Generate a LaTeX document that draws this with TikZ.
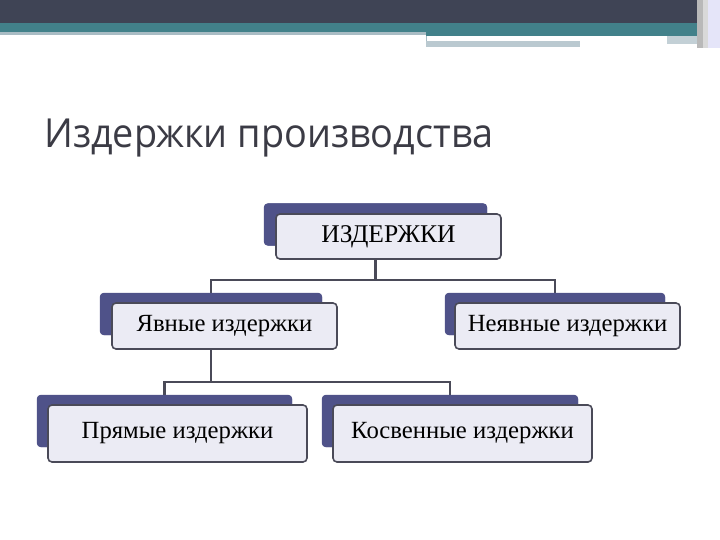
\documentclass[tikz,border=0pt]{standalone}
\usepackage{fontspec}
\setmainfont{Liberation Serif}
\newfontfamily\titlefont[FakeStretch=0.945]{Open Sans}
\definecolor{topdark}{HTML}{3F4455}
\definecolor{topteal}{HTML}{42818A}
\definecolor{topline}{HTML}{A9BCC4}
\definecolor{backnavy}{HTML}{4F5289}
\definecolor{frontfill}{HTML}{EBEBF4}
\definecolor{edgegray}{HTML}{4A4A58}
\definecolor{titlegray}{HTML}{3B3B45}
\begin{document}
\begin{tikzpicture}[x=1pt,y=-1pt,
  backbox/.style={draw=none,fill=backnavy,rounded corners=4pt,inner sep=0pt},
  frontbox/.style={draw=edgegray,line width=1.6pt,fill=frontfill,rounded corners=4pt,inner sep=0pt,font=\fontsize{24.7}{26}\selectfont,text=black},
  conn/.style={draw=edgegray,line width=2.4pt}]
\useasboundingbox (0,0) rectangle (720,540);
% top decoration
\fill[topdark] (0,0) rectangle (720,23);
\fill[topteal] (0,23) rectangle (697,32);
\fill[topline] (0,32) rectangle (426,35);
\fill[topteal] (426,32) rectangle (697,36);
\fill[white] (426,36) rectangle (667,40);
\draw[topline,line width=1pt] (426,36) -- (426,47);
\fill[topline!80] (426,41) rectangle (580,47);
\fill[topline!70] (667,36) rectangle (697,44);
\fill[gray!55] (697,0) rectangle (703,48);
\fill[gray!30] (703,0) rectangle (708,48);
\fill[black!25!blue!10] (708,0) rectangle (720,48);
% title
\node[anchor=base west,inner sep=0pt,text=titlegray,font=\titlefont\fontsize{40}{44}\selectfont] (title) at (44,148) {Издержки производства};
% junctions
\coordinate (j1) at (375.5,280);
\coordinate (j2) at (211,382);
% back boxes
\node[backbox,minimum width=223pt,minimum height=42pt] (b1) at (375.5,224.5) {};
\node[backbox,minimum width=222pt,minimum height=42pt] (b2) at (211,314) {};
\node[backbox,minimum width=220pt,minimum height=42pt] (b3) at (555,314) {};
\node[backbox,minimum width=255pt,minimum height=52pt] (b4) at (164.5,421) {};
\node[backbox,minimum width=256pt,minimum height=52pt] (b5) at (450,421) {};
% connectors
\path (b1 |- 0,259) coordinate (s1);
\path (b2 |- 0,349) coordinate (s2);
\draw[conn] (s1) -- (j1);
\draw[conn] (b2.north) |- (j1) -| (b3.north);
\draw[conn] (s2) -- (j2);
\draw[conn] (b4.north) |- (j2) -| (b5.north);
% redraw back boxes over connector ends
\fill[backnavy,rounded corners=4pt] (b1.north west) rectangle (b1.south east);
\fill[backnavy,rounded corners=4pt] (b2.north west) rectangle (b2.south east);
\fill[backnavy,rounded corners=4pt] (b3.north west) rectangle (b3.south east);
\fill[backnavy,rounded corners=4pt] (b4.north west) rectangle (b4.south east);
\fill[backnavy,rounded corners=4pt] (b5.north west) rectangle (b5.south east);
% front boxes
\node[frontbox,minimum width=225pt,minimum height=45pt,font=\fontsize{25.5}{27}\selectfont] (f1) at (388.5,236.5) {ИЗДЕРЖКИ};
\node[frontbox,minimum width=225pt,minimum height=46pt] (f2) at (224.5,326) {Явные издержки};
\node[frontbox,minimum width=225pt,minimum height=46pt] (f3) at (567.5,326) {Неявные издержки};
\node[frontbox,minimum width=259pt,minimum height=57pt] (f4) at (177.5,433.5) {Прямые издержки};
\node[frontbox,minimum width=259pt,minimum height=57pt] (f5) at (462.5,433.5) {Косвенные издержки};
\end{tikzpicture}
\end{document}
